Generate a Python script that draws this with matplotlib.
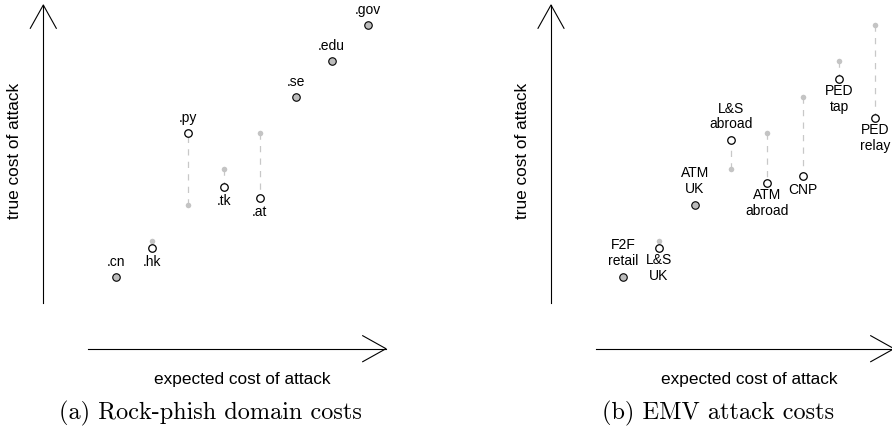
import numpy as np
import matplotlib
matplotlib.use('Agg')
import matplotlib.pyplot as plt
from matplotlib.lines import Line2D

# Panel (a): rock-phish domains
dom_labels = ['.cn', '.hk', '.py', '.tk', '.at', '.se', '.edu', '.gov']
dom_expected = [1, 2, 3, 4, 5, 6, 7, 8]
dom_true = [1, 1.8, 5.0, 3.5, 3.2, 6, 7, 8]
dom_lblpos = ['above', 'below', 'above', 'below', 'below', 'above', 'above', 'above']

# Panel (b): EMV attacks
emv_labels = ['F2F\nretail', 'L&S\nUK', 'ATM\nUK', 'L&S\nabroad', 'ATM\nabroad',
              'CNP', 'PED\ntap', 'PED\nrelay']
emv_expected = [1, 2, 3, 4, 5, 6, 7, 8]
emv_true = [1, 1.8, 3.0, 4.8, 3.6, 3.8, 6.5, 5.4]
emv_lblpos = ['above', 'below', 'above', 'above', 'below', 'below', 'below', 'below']

W, H = 892, 429
fig = plt.figure(figsize=(W / 100, H / 100), dpi=100)
SANS = 'Liberation Sans'
SERIF = 'cmr10'


def px(x, y):
    return x / W, 1 - y / H


def arrow(x0, y0, x1, y1):
    # straight shaft with an open V head, given in reference pixels
    v = np.array([x1 - x0, y1 - y0], float)
    v /= np.hypot(*v)
    n = np.array([-v[1], v[0]])
    hl, hw = 23.3, 13.0
    b = np.array([x1, y1]) - v * hl
    pts = [b + n * hw, (x1, y1), b - n * hw]
    kw = dict(color='black', lw=0.8, transform=fig.transFigure, clip_on=False)
    fig.add_artist(Line2D(*zip(px(x0, y0), px(x1, y1)), **kw))
    fig.add_artist(Line2D(*zip(*[px(*p) for p in pts]), **kw))


def panel(left_px, x1_px, labels, expected, true, lblpos):
    ax = fig.add_axes([left_px / W, 0, 446 / W, 1])
    ax.set_axis_off()
    # one data unit = 36 px; value 1 sits at (x1_px, 276.7)
    ax.set_xlim(1 - (x1_px - left_px) / 36, 1 + (left_px + 446 - x1_px) / 36)
    ax.set_ylim(1 - (H - 276.7) / 36, 1 + 276.7 / 36)
    for lab, e, t, pos in zip(labels, expected, true, lblpos):
        if abs(e - t) > 1e-9:
            ax.plot([e, e], [e, t], color='#c8c8c8', lw=0.9, ls=(0, (5, 5)),
                    zorder=1)
            ax.plot(e, e, 'o', ms=4.0, color='#c4c4c4', mec='none', zorder=2)
            ax.plot(e, t, 'o', ms=5.4, mfc='white', mec='black', mew=0.9,
                    zorder=3, clip_on=False)
        else:
            ax.plot(e, t, 'o', ms=5.4, mfc='#bcbcbc', mec='black', mew=0.8,
                    zorder=3, clip_on=False)
        two = '\n' in lab
        if pos == 'above':
            dy = 23.5 if two else 14.5
        else:
            dy = -20 if two else -14.5
        ax.annotate(lab, (e, t), xytext=(0, dy * 0.72), textcoords='offset points',
                    ha='center', va='center', fontsize=10, family=SANS,
                    linespacing=1.15)
    return ax


panel(0, 115.7, dom_labels, dom_expected, dom_true, dom_lblpos)
panel(446, 623, emv_labels, emv_expected, emv_true, emv_lblpos)

# hand-drawn style axes
arrow(43.3, 303.3, 43.3, 5)
arrow(88.3, 348.7, 386, 348.7)
arrow(551, 303.3, 551, 5)
arrow(596, 348.7, 894, 348.7)

for cx, lx, cap in [(242, 210.8, '(a) Rock-phish domain costs'),
                    (749.7, 718.5, '(b) EMV attack costs')]:
    fig.text(*px(cx, 379.3), 'expected cost of attack', ha='center', va='center',
             fontsize=12.4, family=SANS)
    fig.text(*px(lx, 413.3), cap, ha='center', va='center', fontsize=17.5,
             family=SERIF)

for cx in [15, 522.7]:
    fig.text(*px(cx, 151), 'true cost of attack', ha='center', va='center',
             rotation=90, fontsize=12.4, family=SANS)

fig.savefig('out.png', dpi=100)
